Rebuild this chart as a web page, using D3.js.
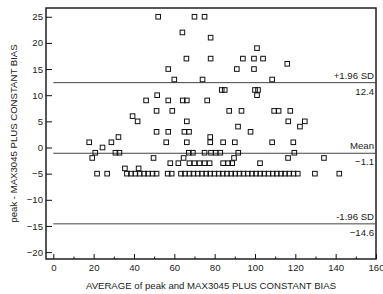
<!DOCTYPE html>
<html>
<head>
<meta charset="utf-8">
<script src="https://cdn.jsdelivr.net/npm/d3@7"></script>
<style>
  body { margin: 0; background: #fff; }
  svg text { font-family: "Liberation Sans", Arial, sans-serif; fill: #222; }
</style>
</head>
<body>
<svg width="383" height="294"></svg>
<script>
// Bland-Altman points: average (x) and difference (y)
var avgValues = [
    52, 70, 75,
    64, 78, 101,
    66, 78, 94, 99.5, 104, 116,
    57, 91, 99.5,
    60, 74, 108.5,
    83.5, 85, 100, 101.5,
    51.5, 101,
    46, 57, 64.2, 66.2, 76.3,
    51.2, 59, 87.2, 93.3, 109.5, 111.7, 117.5,
    39.3,
    41.8, 66.2, 116.5, 124.7,
    91.6, 122.3,
    51.2, 57, 65, 67.3, 97.8,
    32.3, 77.8,
    17.8, 28.8, 56, 66.2, 77.8, 84.2, 90, 108.5, 119,
    24.4,
    20.8, 30.8, 32.8, 67.2, 69.2, 75, 78.2, 80.5, 82.8, 91.7, 119.5,
    19.3, 49.7, 64.6, 89.6, 116.4, 134.2,
    58, 62, 67.5, 70, 72.5, 75, 77.5, 84.2, 86.7, 88.7, 102.5,
    35.5, 42.3,
    21.7, 26.7, 36.5, 38.5, 40.7, 42.8, 45, 47, 49.2, 51.2, 56.7, 58.7,
    63.3, 65.3, 67.5, 69.5, 71.6, 73.7, 75.8, 77.8, 79.9, 82, 84, 86.1, 88.2, 90.2,
    92.3, 94.3, 96.4, 98.5, 100.5, 102.6, 104.6, 106.7, 108.8, 110.8, 112.9, 114.9,
    117, 119.1, 121.2, 129.7, 141.8
];
var diffValues = [
    25, 25, 25,
    22, 21, 19,
    17, 17, 17, 17, 17, 16,
    15, 15, 15,
    13, 13, 13,
    11, 11, 11, 11,
    10, 10,
    9, 9, 9, 9, 9,
    7, 7, 7, 7, 7, 7, 7,
    6,
    5, 5, 5, 5,
    4, 4,
    3, 3, 3, 3, 3,
    2, 2,
    1, 1, 1, 1, 1, 1, 1, 1, 1,
    0,
    -1, -1, -1, -1, -1, -1, -1, -1, -1, -1, -1,
    -2, -2, -2, -2, -2, -2,
    -3, -3, -3, -3, -3, -3, -3, -3, -3, -3, -3,
    -4, -4,
    -5, -5, -5, -5, -5, -5, -5, -5, -5, -5, -5, -5,
    -5, -5, -5, -5, -5, -5, -5, -5, -5, -5, -5, -5, -5, -5,
    -5, -5, -5, -5, -5, -5, -5, -5, -5, -5, -5, -5,
    -5, -5, -5, -5, -5
];

// reference lines
var refValues = [12.4, -1.1, -14.6];
var refNames = ["+1.96 SD", "Mean", "-1.96 SD"];

// ticks
var xTicks = [0, 10, 20, 30, 40, 50, 60, 70, 80, 90, 100, 110, 120, 130, 140, 150, 160];
var yTicks = [-20, -15, -10, -5, 0, 5, 10, 15, 20, 25];

var xTitle = "AVERAGE of peak and MAX3045 PLUS CONSTANT BIAS";
var yTitle = "peak - MAX3045 PLUS CONSTANT BIAS";

var frame = {left: 46, right: 376, top: 8, bottom: 259};
var fontSize = "9.6px";

var svg = d3.select("svg");

var x = d3.scaleLinear().domain([0, 160]).range([53.3, 376]);
var y = d3.scaleLinear().domain([-20, 25]).range([252.1, 16.75]);

var points = avgValues.map(function(d, i) { return {avg: d, diff: diffValues[i]}; });

// x axis, ticks point inward
var gx = svg.append("g")
    .attr("transform", "translate(0," + frame.bottom + ")")
    .call(d3.axisBottom(x).tickValues(xTicks).tickSize(-5).tickPadding(5)
        .tickFormat(function(d) { return d % 20 === 0 ? d : ""; }));
gx.select(".domain").remove();
gx.selectAll(".tick line")
    .attr("stroke", "#111")
    .attr("y2", function(d) { return d % 20 === 0 ? -5 : -2.5; });
gx.selectAll(".tick text").style("font-size", fontSize);

// y axis
var gy = svg.append("g")
    .attr("transform", "translate(" + frame.left + ",0)")
    .call(d3.axisLeft(y).tickValues(yTicks).tickSize(-6).tickPadding(3));
gy.select(".domain").remove();
gy.selectAll(".tick line").attr("stroke", "#111");
gy.selectAll(".tick text").style("font-size", fontSize);

// frame
svg.append("rect")
    .attr("x", frame.left)
    .attr("y", frame.top)
    .attr("width", frame.right - frame.left)
    .attr("height", frame.bottom - frame.top)
    .attr("fill", "none")
    .attr("stroke", "#111")
    .attr("stroke-width", 1.4);

// reference lines with labels
var gRef = svg.selectAll("g.ref")
    .data(refValues)
    .enter()
    .append("g")
    .attr("class", "ref");

gRef.append("line")
    .attr("x1", x(0))
    .attr("x2", frame.right)
    .attr("y1", function(d) { return y(d); })
    .attr("y2", function(d) { return y(d); })
    .attr("stroke", "#444")
    .attr("stroke-width", 1);

gRef.append("text")
    .attr("x", frame.right - 2)
    .attr("y", function(d) { return y(d) - 4; })
    .attr("text-anchor", "end")
    .style("font-size", fontSize)
    .text(function(d, i) { return refNames[i]; });

gRef.append("text")
    .attr("x", frame.right - 2)
    .attr("y", function(d) { return y(d) + 12; })
    .attr("text-anchor", "end")
    .style("font-size", fontSize)
    .text(function(d) { return d3.format(".1f")(d); });

// points
var size = 4.6;
svg.append("g")
    .selectAll("rect")
    .data(points)
    .enter()
    .append("rect")
    .attr("x", function(d) { return x(d.avg) - size / 2; })
    .attr("y", function(d) { return y(d.diff) - size / 2; })
    .attr("width", size)
    .attr("height", size)
    .attr("fill", "none")
    .attr("stroke", "#111")
    .attr("stroke-width", 1);

// axis titles
svg.append("text")
    .attr("x", 211)
    .attr("y", 289)
    .attr("text-anchor", "middle")
    .style("font-size", fontSize)
    .text(xTitle);

svg.append("text")
    .attr("transform", "translate(17," + (frame.top + frame.bottom) / 2 + ") rotate(-90)")
    .attr("text-anchor", "middle")
    .style("font-size", fontSize)
    .text(yTitle);
</script>
</body>
</html>
